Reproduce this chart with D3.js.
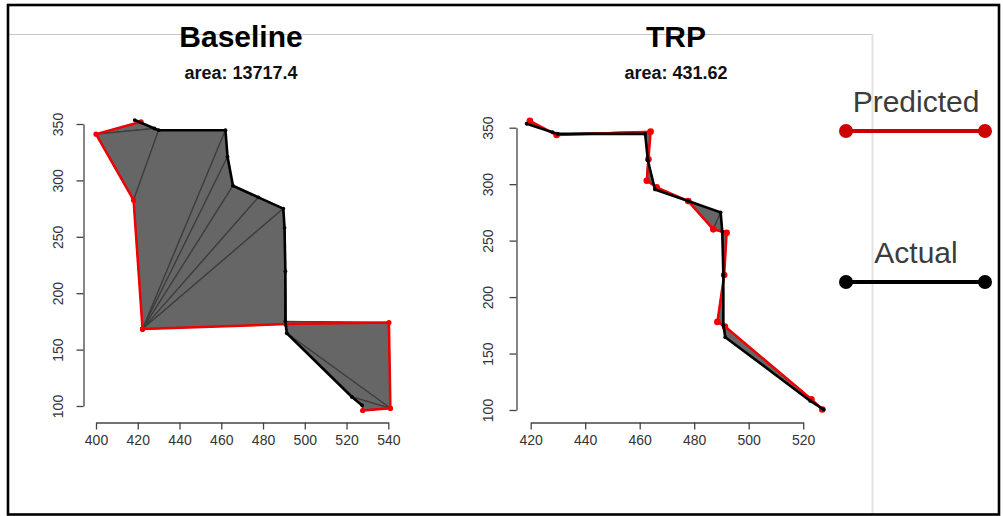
<!DOCTYPE html>
<html>
<head>
<meta charset="utf-8">
<script src="https://cdn.jsdelivr.net/npm/d3@7"></script>
<style>
  html, body { margin: 0; padding: 0; background: #fff; }
  svg { display: block; font-family: Arial, "Liberation Sans", sans-serif; }
</style>
</head>
<body>
<div id="chart"></div>
<script>
// Actual trajectory (same in both panels): x and y values
const actualX = [418.5, 428, 430, 462, 463, 465.6, 477.8, 489.7, 490.3, 490.7, 490.7, 491.4, 522.6, 527.5];
const actualY = [353.5, 346, 344.5, 344.5, 321, 295.3, 285, 275, 258, 219.5, 175, 164.5, 108, 100.5];

// Baseline prediction
const baselineX = [421.6, 400, 418, 422.3, 422.3, 422.3, 422.3, 422.3, 491, 491, 540.3, 541, 541, 527.7];
const baselineY = [352, 341, 282.5, 168.2, 168.2, 168.2, 168.2, 168.2, 172.6, 172.6, 174, 98, 98, 96];

// TRP prediction
const trpX = [419.7, 429.5, 464, 463.2, 462.6, 466.2, 477.8, 487, 491.9, 491, 488.5, 491.3, 523, 527];
const trpY = [356, 343.5, 346.5, 322, 303, 297.2, 285, 260, 257, 219.5, 178, 174, 109.5, 100.5];

// Tick values
const baselineXTicks = [400, 420, 440, 460, 480, 500, 520, 540];
const trpXTicks = [420, 440, 460, 480, 500, 520];
const yTicks = [100, 150, 200, 250, 300, 350];

const titles = ["Baseline", "TRP"];
const subtitles = ["area: 13717.4", "area: 431.62"];
const legendLabels = ["Predicted", "Actual"];

const width = 1003;
const height = 516;

const svg = d3.select("#chart").append("svg")
    .attr("width", width)
    .attr("height", height)
    .attr("viewBox", [0, 0, width, height]);

// Light frame lines of the plot device
svg.append("line")
    .attr("x1", 9).attr("x2", 873).attr("y1", 34.5).attr("y2", 34.5)
    .attr("stroke", "#c6c6c6").attr("stroke-width", 1.2);
svg.append("line")
    .attr("x1", 872.5).attr("x2", 872.5).attr("y1", 34).attr("y2", 515)
    .attr("stroke", "#e2e2e2").attr("stroke-width", 2);

// Panel settings
const panels = [
    {title: titles[0], sub: subtitles[0], cx: 241, xTicks: baselineXTicks,
     xRange: [96, 388.3], yRange: [406, 124], axisX: 83.5, labelX: 58,
     predX: baselineX, predY: baselineY, predR: 2.6},
    {title: titles[1], sub: subtitles[1], cx: 676, xTicks: trpXTicks,
     xRange: [530.7, 803.2], yRange: [410, 127.7], axisX: 516.5, labelX: 488,
     predX: trpX, predY: trpY, predR: 3.3}
];

const axisY = 422.5;
const tickFont = "Arial, 'Liberation Sans', sans-serif";

panels.forEach(p => {
    const x = d3.scaleLinear().domain(d3.extent(p.xTicks)).range(p.xRange);
    const y = d3.scaleLinear().domain(d3.extent(yTicks)).range(p.yRange);

    const actual = actualX.map((v, i) => [x(v), y(actualY[i])]);
    const pred = p.predX.map((v, i) => [x(v), y(p.predY[i])]);

    // Shaded area between curves, one quad per step (seams show as darker lines)
    const g = svg.append("g");
    d3.range(actual.length - 1).forEach(i => {
        const quad = [actual[i], actual[i + 1], pred[i + 1], pred[i]];
        g.append("path")
            .attr("d", "M" + quad.join("L") + "Z")
            .attr("fill", "#666")
            .attr("stroke", "#3e3e3e")
            .attr("stroke-width", 1.3)
            .attr("stroke-linejoin", "round");
    });

    const line = d3.line();

    // Predicted (red)
    svg.append("path")
        .attr("d", line(pred))
        .attr("fill", "none")
        .attr("stroke", "#f00000")
        .attr("stroke-width", 2.5)
        .attr("stroke-linejoin", "round");
    svg.append("g").selectAll("circle")
        .data(pred)
        .join("circle")
        .attr("cx", d => d[0]).attr("cy", d => d[1])
        .attr("r", p.predR)
        .attr("fill", "#f00000");

    // Actual (black)
    svg.append("path")
        .attr("d", line(actual))
        .attr("fill", "none")
        .attr("stroke", "#000")
        .attr("stroke-width", 2.6)
        .attr("stroke-linejoin", "round");
    svg.append("g").selectAll("circle")
        .data(actual)
        .join("circle")
        .attr("cx", d => d[0]).attr("cy", d => d[1])
        .attr("r", 1.9)
        .attr("fill", "#000");

    // Bottom axis
    const gx = svg.append("g")
        .attr("transform", `translate(0,${axisY})`)
        .call(d3.axisBottom(x).tickValues(p.xTicks).tickSize(7).tickSizeOuter(0).tickPadding(6));
    gx.selectAll("path, line").attr("stroke", "#444").attr("stroke-width", 1.3);
    gx.selectAll("text")
        .attr("fill", "#333")
        .style("font-size", "14px")
        .style("font-family", tickFont);

    // Left axis with rotated labels
    const gy = svg.append("g")
        .attr("transform", `translate(${p.axisX},0)`)
        .call(d3.axisLeft(y).tickValues(yTicks).tickSize(7).tickSizeOuter(0));
    gy.selectAll("path, line").attr("stroke", "#444").attr("stroke-width", 1.3);
    gy.selectAll(".tick text")
        .attr("fill", "#333")
        .attr("text-anchor", "middle")
        .attr("x", null)
        .attr("dy", "0.35em")
        .attr("transform", `translate(${p.labelX - p.axisX},0) rotate(-90)`)
        .style("font-size", "14px")
        .style("font-family", tickFont);

    // Titles
    svg.append("text")
        .attr("x", p.cx).attr("y", 47)
        .attr("text-anchor", "middle")
        .attr("font-weight", "bold")
        .attr("font-size", 30)
        .attr("fill", "#000")
        .text(p.title);
    svg.append("text")
        .attr("x", p.cx).attr("y", 79)
        .attr("text-anchor", "middle")
        .attr("font-weight", "bold")
        .attr("font-size", 18)
        .attr("fill", "#111")
        .text(p.sub);
});

// Legend
const legendColors = ["#cc0000", "#000"];
const legendRows = [131, 282];
legendLabels.forEach((label, i) => {
    const ly = legendRows[i];
    svg.append("text")
        .attr("x", 916).attr("y", ly - 19)
        .attr("text-anchor", "middle")
        .attr("font-size", 30)
        .attr("fill", "#3c3c3c")
        .text(label);
    svg.append("line")
        .attr("x1", 846).attr("x2", 985).attr("y1", ly).attr("y2", ly)
        .attr("stroke", legendColors[i]).attr("stroke-width", 4);
    [846, 985].forEach(cx => svg.append("circle")
        .attr("cx", cx).attr("cy", ly).attr("r", 7)
        .attr("fill", legendColors[i]));
});

// Outer black frame
svg.append("rect")
    .attr("x", 8).attr("y", 5).attr("width", 991).attr("height", 509.5)
    .attr("fill", "none").attr("stroke", "#000").attr("stroke-width", 2.6);
</script>
</body>
</html>
